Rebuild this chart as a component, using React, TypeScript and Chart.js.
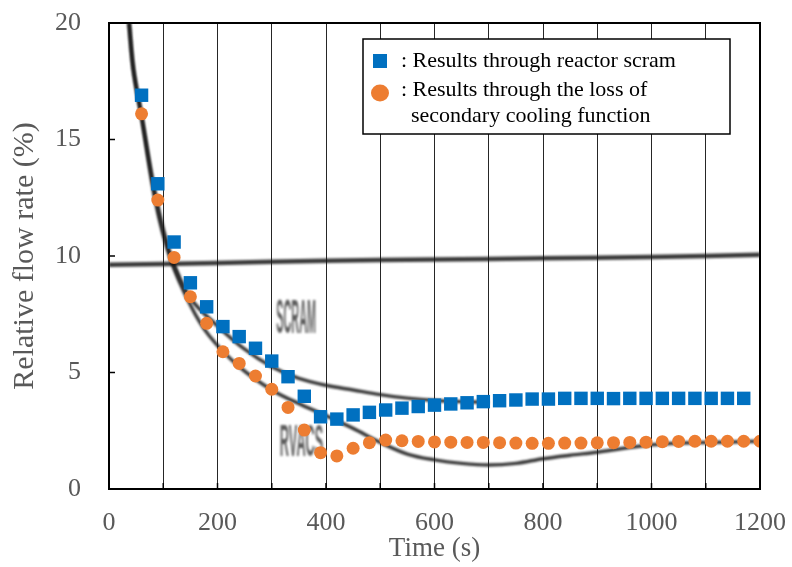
import React, { useEffect, useRef } from 'react';
import { Chart, registerables } from 'chart.js';

Chart.register(...registerables);

// ---- data ----
const times = [60, 90, 120, 150, 180, 210, 240, 270, 300, 330, 360, 390, 420, 450, 480, 510, 540, 570, 600, 630, 660, 690, 720, 750, 780, 810, 840, 870, 900, 930, 960, 990, 1020, 1050, 1080, 1110, 1140, 1170, 1200];

const scramValues = [16.9, 13.1, 10.6, 8.85, 7.82, 6.97, 6.54, 6.04, 5.49, 4.82, 3.98, 3.1, 3.0, 3.18, 3.29, 3.39, 3.47, 3.54, 3.6, 3.65, 3.7, 3.75, 3.79, 3.82, 3.86, 3.86, 3.89, 3.89, 3.89, 3.88, 3.89, 3.89, 3.89, 3.89, 3.89, 3.89, 3.89, 3.89];

const lossValues = [16.1, 12.4, 9.94, 8.25, 7.11, 5.89, 5.39, 4.85, 4.28, 3.5, 2.53, 1.56, 1.42, 1.75, 1.99, 2.1, 2.07, 2.04, 2.02, 2.01, 2.0, 2.0, 1.99, 1.97, 1.96, 1.96, 1.97, 1.97, 1.98, 1.99, 2.0, 2.01, 2.03, 2.04, 2.05, 2.05, 2.05, 2.05, 2.05];

// scanned background curves (original measurement traces)
const scramCurveT = [37, 45, 60, 86, 113, 150, 200, 250, 300, 350, 400, 450, 500, 550, 600, 650, 700];
const scramCurveV = [20, 18, 16, 12.6, 10.1, 8.2, 7.0, 6.0, 5.25, 4.75, 4.45, 4.25, 4.05, 3.9, 3.8, 3.75, 3.72];

const rvacsCurveT = [37, 45, 60, 86, 113, 150, 184, 240, 300, 356, 400, 450, 500, 550, 600, 650, 700, 750, 800, 850, 900, 950, 1000, 1050, 1100, 1150, 1200];
const rvacsCurveV = [20, 18, 16, 12.3, 9.9, 7.9, 6.6, 5.25, 4.25, 3.6, 3.15, 2.6, 2.0, 1.5, 1.25, 1.1, 1.03, 1.1, 1.3, 1.45, 1.58, 1.75, 1.9, 1.97, 2.0, 2.02, 2.05];

const baseT = [0, 200, 400, 600, 800, 1000, 1200];
const baseV = [9.62, 9.7, 9.8, 9.85, 9.9, 9.96, 10.05];

const xTickLabels = [0, 200, 400, 600, 800, 1000, 1200];
const yTickLabels = [0, 5, 10, 15, 20];

const legendLabels = [': Results through reactor scram', ': Results through the loss of', 'secondary cooling function'];
const curveLabels = [
  { text: 'SCRAM', t: 345, v: 7.25, sx: 0.72, sy: 3.2 },
  { text: 'RVACS', t: 355, v: 1.95, sx: 0.85, sy: 3.0 },
];

const SERIF = "'Liberation Serif', 'Times New Roman', serif";
const BLUE = '#0070C0';
const ORANGE = '#ED7D31';
const GRAY = '#595959';

const pts = (t: number[], v: number[]) => t.map((x, i) => ({ x, y: v[i] }));

const scanPlugin = {
  id: 'scanBlur',
  beforeDatasetDraw(chart: any, args: any) {
    const ds = chart.data.datasets[args.index];
    if (ds.scan) {
      chart.ctx.save();
      chart.ctx.filter = 'blur(1px)';
    }
  },
  afterDatasetDraw(chart: any, args: any) {
    const ds = chart.data.datasets[args.index];
    if (ds.scan) chart.ctx.restore();
  },
  beforeDatasetsDraw(chart: any) {
    const { ctx, scales } = chart;
    ctx.save();
    ctx.filter = 'blur(0.9px)';
    ctx.fillStyle = 'rgba(40,40,40,0.75)';
    ctx.font = "bold 15px 'Liberation Sans', Arial, sans-serif";
    ctx.textAlign = 'center';
    ctx.textBaseline = 'middle';
    curveLabels.forEach((l) => {
      const px = scales.x.getPixelForValue(l.t);
      const py = scales.y.getPixelForValue(l.v);
      ctx.save();
      ctx.translate(px, py);
      ctx.scale(l.sx, l.sy);
      ctx.fillText(l.text, 0, 0);
      ctx.restore();
    });
    ctx.restore();
  },
};

const framePlugin = {
  id: 'frameLegend',
  afterDatasetsDraw(chart: any) {
    const { ctx, chartArea, scales } = chart;
    const { left, right, top, bottom } = chartArea;
    ctx.save();
    ctx.strokeStyle = '#000';
    ctx.lineWidth = 2;
    ctx.strokeRect(left, top, right - left, bottom - top);
    ctx.lineWidth = 1.5;
    // inward ticks
    yTickLabels.forEach((v) => {
      const y = scales.y.getPixelForValue(v);
      ctx.beginPath();
      ctx.moveTo(left, y);
      ctx.lineTo(left + 6, y);
      ctx.stroke();
    });
    for (let t = 100; t < 1200; t += 100) {
      const x = scales.x.getPixelForValue(t);
      ctx.beginPath();
      ctx.moveTo(x, bottom);
      ctx.lineTo(x, bottom - 6);
      ctx.stroke();
    }
    // legend box
    const bx = 363, by = 39, bw = 367, bh = 95;
    ctx.fillStyle = '#fff';
    ctx.fillRect(bx, by, bw, bh);
    ctx.lineWidth = 1.5;
    ctx.strokeStyle = '#000';
    ctx.strokeRect(bx, by, bw, bh);
    ctx.fillStyle = BLUE;
    ctx.fillRect(373, 54, 14, 14);
    ctx.fillStyle = ORANGE;
    ctx.beginPath();
    ctx.ellipse(380, 93, 9, 8.5, 0, 0, Math.PI * 2);
    ctx.fill();
    ctx.fillStyle = '#000';
    ctx.font = `22px ${SERIF}`;
    ctx.textAlign = 'left';
    ctx.textBaseline = 'middle';
    ctx.fillText(legendLabels[0], 401, 61);
    ctx.fillText(legendLabels[1], 401, 90);
    ctx.fillText(legendLabels[2], 411, 116);
    ctx.restore();
  },
};

export default function App() {
  const ref = useRef<HTMLCanvasElement>(null);
  useEffect(() => {
    if (!ref.current) return;
    const chart = new Chart(ref.current, {
      type: 'scatter',
      data: {
        datasets: [
          {
            label: 'Results through reactor scram',
            data: pts(times.slice(0, scramValues.length), scramValues),
            pointStyle: 'rect',
            pointRadius: 9.5,
            backgroundColor: BLUE,
            borderColor: BLUE,
            borderWidth: 0,
            order: 0,
          },
          {
            label: 'Results through the loss of secondary cooling function',
            data: pts(times, lossValues),
            pointStyle: 'circle',
            pointRadius: 6.5,
            backgroundColor: ORANGE,
            borderColor: ORANGE,
            borderWidth: 0,
            order: 1,
          },
          {
            label: 'SCRAM trace',
            data: pts(scramCurveT, scramCurveV),
            showLine: true,
            pointRadius: 0,
            borderColor: 'rgba(20,20,20,0.85)',
            borderWidth: 3.5,
            tension: 0.35,
            scan: true,
            order: 2,
          } as any,
          {
            label: 'RVACS trace',
            data: pts(rvacsCurveT, rvacsCurveV),
            showLine: true,
            pointRadius: 0,
            borderColor: 'rgba(20,20,20,0.85)',
            borderWidth: 3.5,
            tension: 0.35,
            scan: true,
            order: 3,
          } as any,
          {
            label: 'baseline trace',
            data: pts(baseT, baseV),
            showLine: true,
            pointRadius: 0,
            borderColor: 'rgba(20,20,20,0.85)',
            borderWidth: 4.5,
            tension: 0.3,
            scan: true,
            order: 4,
          } as any,
        ],
      },
      options: {
        animation: false,
        responsive: false,
        maintainAspectRatio: false,
        layout: { padding: { left: 0, right: 32, top: 23, bottom: 0 } },
        plugins: { legend: { display: false }, tooltip: { enabled: false } },
        scales: {
          x: {
            type: 'linear',
            min: 0,
            max: 1200,
            afterFit: (s: any) => {
              s.height = 78;
              s.paddingLeft = 0;
              s.paddingRight = 0;
            },
            grid: { color: 'rgba(0,0,0,0.85)', lineWidth: 1, drawTicks: false },
            border: { display: false },
            ticks: {
              stepSize: 100,
              autoSkip: false,
              maxRotation: 0,
              padding: 19,
              color: GRAY,
              font: { family: SERIF, size: 26 },
              callback: (v: any) => (xTickLabels.includes(Number(v)) ? String(v) : ''),
            },
            title: {
              display: true,
              text: 'Time (s)',
              color: GRAY,
              font: { family: SERIF, size: 27 },
              padding: { top: 0, bottom: 2 },
            },
          },
          y: {
            min: 0,
            max: 20,
            afterFit: (s: any) => {
              s.width = 109;
              s.paddingTop = 0;
              s.paddingBottom = 0;
            },
            grid: { display: false, drawTicks: false },
            border: { display: false },
            ticks: {
              stepSize: 5,
              padding: 28,
              color: GRAY,
              font: { family: SERIF, size: 26 },
              callback: (v: any) => (yTickLabels.includes(Number(v)) ? String(v) : ''),
            },
            title: {
              display: true,
              text: 'Relative flow rate (%)',
              color: GRAY,
              font: { family: SERIF, size: 30 },
              padding: { top: 7, bottom: 0 },
            },
          },
        },
      },
      plugins: [scanPlugin, framePlugin],
    });
    return () => chart.destroy();
  }, []);
  return (
    <div style={{ position: 'fixed', left: 0, top: 0, width: 792, height: 567, background: '#fff' }}>
      <canvas ref={ref} width={792} height={567} />
    </div>
  );
}
